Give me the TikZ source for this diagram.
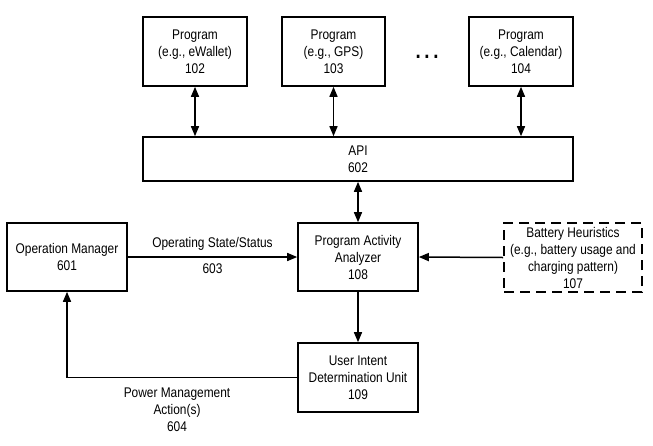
\documentclass[tikz,border=0pt]{standalone}
\usepackage{fontspec}
\setmainfont{Liberation Sans}[FakeStretch=0.85]
\usetikzlibrary{arrows.meta}

\begin{document}
\begin{tikzpicture}[x=1pt,y=-1pt,
    box/.style={draw, line width=1.6pt, align=center, inner sep=0pt,
        font=\fontsize{14}{17}\selectfont},
    lbl/.style={align=center, inner sep=0pt, font=\fontsize{14}{17}\selectfont},
    arr/.style={line width=1.5pt, -{Triangle[length=10pt,width=8pt]}},
    darr/.style={line width=1.5pt, {Triangle[length=10pt,width=8pt]}-{Triangle[length=10pt,width=8pt]}}]
    \useasboundingbox (0,0) rectangle (653,445);
    % programs
    \node[box, minimum width=104, minimum height=69] (p102) at (195,51.5) {Program\\(e.g., eWallet)\\102};
    \node[box, minimum width=103, minimum height=69] (p103) at (333.5,51.5) {Program\\(e.g., GPS)\\103};
    \node[box, minimum width=104, minimum height=69] (p104) at (521,51.5) {Program\\(e.g., Calendar)\\104};
    \node[lbl, anchor=base, font=\fontsize{22}{22}\selectfont\bfseries] (dots) at (427,58.5) {.\,.\,.};
    \node[box, minimum width=430, minimum height=44] (api) at (358,159) {API\\602};
    % middle row
    \node[box, minimum width=120, minimum height=68] (om) at (67,257) {Operation Manager\\601};
    \node[box, minimum width=120, minimum height=68] (paa) at (358,257) {Program Activity\\Analyzer\\108};
    \node[box, dashed, dash pattern=on 10pt off 6pt, minimum width=138, minimum height=69] (bh) at (573,257.5)
        {Battery Heuristics\\(e.g., battery usage and\\charging pattern)\\107};
    \node[box, minimum width=120, minimum height=69] (uidu) at (358,377.5) {User Intent\\Determination Unit\\109};
    \coordinate (corner) at (om.south |- uidu.west);
    % connectors
    \draw[darr] (p102.south) -- (p102.south |- api.north);
    \draw[darr] (p103.south) -- (p103.south |- api.north);
    \draw[darr] (p104.south) -- (p104.south |- api.north);
    \draw[darr] (api.south) -- (paa.north);
    \draw[arr] (om.east) -- (paa.west)
        node[lbl, midway, above=6pt] {Operating State/Status}
        node[lbl, midway, below=6pt] {603};
    \draw[arr] (bh.west) -- (paa.east);
    \draw[arr] (paa.south) -- (uidu.north);
    \draw[arr] (uidu.west) -- (corner) -- (om.south);
    \node[lbl] (pwr) at (177,410) {Power Management\\Action(s)\\604};
\end{tikzpicture}
\end{document}
